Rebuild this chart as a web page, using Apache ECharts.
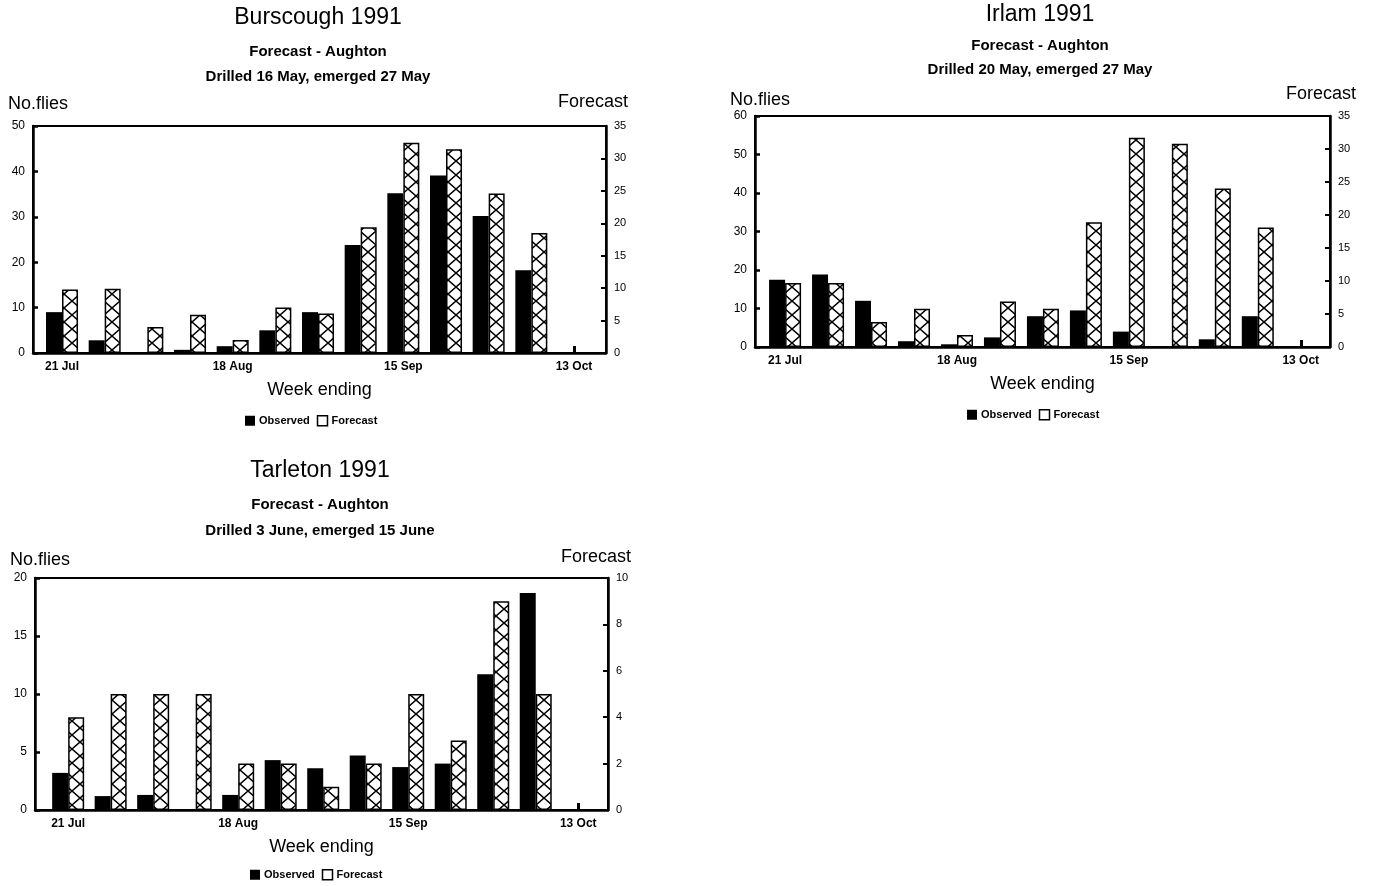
<!DOCTYPE html>
<html>
<head>
<meta charset="utf-8">
<title>Cabbage root fly counts 1991</title>
<script src="https://cdn.jsdelivr.net/npm/echarts@6/dist/echarts.min.js"></script>
<style>
  html, body { margin: 0; padding: 0; background: #fff; }
  #chart { width: 1373px; height: 886px; }
</style>
</head>
<body>
<div id="chart"></div>
<script>
// Week-ending dates (one bar pair per week)
const weeks = ['21 Jul', '28 Jul', '4 Aug', '11 Aug', '18 Aug', '25 Aug', '1 Sep',
               '8 Sep', '15 Sep', '22 Sep', '29 Sep', '6 Oct', '13 Oct'];
// Weeks that carry a date label on the x axis
const labelledWeeks = [0, 4, 8, 12];

// Burscough 1991
const burscoughObserved = [9, 2.8, 0, 0.7, 1.5, 5, 9, 23.8, 35.2, 39.1, 30.2, 18.2, 0];
const burscoughForecast = [9.8, 9.9, 4, 5.9, 2, 7, 6.1, 19.4, 32.4, 31.4, 24.6, 18.5, 0];

// Irlam 1991
const irlamObserved = [17.5, 18.8, 12, 1.5, 0.7, 2.5, 8, 9.5, 4, 0, 2, 8, 0];
const irlamForecast = [9.7, 9.7, 3.8, 5.8, 1.8, 6.9, 5.8, 18.9, 31.7, 30.8, 24, 18.1, 0];

// Tarleton 1991
const tarletonObserved = [3.2, 1.2, 1.3, 0, 1.3, 4.3, 3.6, 4.7, 3.7, 4.0, 11.7, 18.7, 0];
const tarletonForecast = [4, 5, 5, 5, 2, 2, 1, 2, 5, 3, 9, 5, 0];

const FONT = '"Liberation Sans", Arial, Helvetica, sans-serif';

// Diagonal cross-hatch fill used for the forecast bars
function crossHatch() {
  const w = 16, h = 14;
  const cv = document.createElement('canvas');
  cv.width = w; cv.height = h;
  const ctx = cv.getContext('2d');
  ctx.fillStyle = '#fff';
  ctx.fillRect(0, 0, w, h);
  ctx.strokeStyle = '#000';
  ctx.lineWidth = 1.5;
  ctx.beginPath();
  ctx.moveTo(0, 0); ctx.lineTo(w, h);
  ctx.moveTo(w, 0); ctx.lineTo(0, h);
  ctx.stroke();
  return cv;
}
const hatch = { image: crossHatch(), repeat: 'repeat' };

const panels = [
  {
    title: 'Burscough 1991', sub: 'Forecast - Aughton\nDrilled 16 May, emerged 27 May',
    obs: burscoughObserved, fc: burscoughForecast,
    leftAxis: [0, 50, 10], rightAxis: [0, 35, 5],
    grid: { left: 33, top: 126, width: 573, height: 227 },
    xRange: [-0.68, 12.75],
    titleX: 318, titleTop: 5, subGap: 8, subLine: 25,
    leftNameGap: 13, rightNameGap: 15, rightNameShift: 22,
    legend: { left: 245, top: 415 }
  },
  {
    title: 'Irlam 1991', sub: 'Forecast - Aughton\nDrilled 20 May, emerged 27 May',
    obs: irlamObserved, fc: irlamForecast,
    leftAxis: [0, 60, 10], rightAxis: [0, 35, 5],
    grid: { left: 755, top: 116, width: 575, height: 231 },
    xRange: [-0.7, 12.68],
    titleX: 1040, titleTop: 2, subGap: 6, subLine: 24,
    leftNameGap: 7, rightNameGap: 13, rightNameShift: 26,
    legend: { left: 967, top: 409 }
  },
  {
    title: 'Tarleton 1991', sub: 'Forecast - Aughton\nDrilled 3 June, emerged 15 June',
    obs: tarletonObserved, fc: tarletonForecast,
    leftAxis: [0, 20, 5], rightAxis: [0, 10, 2],
    grid: { left: 35, top: 578, width: 573, height: 232 },
    xRange: [-0.78, 12.7],
    titleX: 320, titleTop: 458, subGap: 8, subLine: 26,
    leftNameGap: 9, rightNameGap: 12, rightNameShift: 23,
    legend: { left: 250, top: 869 }
  }
];

const option = {
  animation: false,
  backgroundColor: '#fff',
  textStyle: { fontFamily: FONT, color: '#000' },
  title: [], grid: [], xAxis: [], yAxis: [], series: [], legend: []
};

panels.forEach((p, i) => {
  option.title.push({
    text: p.title, subtext: p.sub,
    left: p.titleX, top: p.titleTop, textAlign: 'center',
    padding: 0, itemGap: p.subGap,
    textStyle: { fontFamily: FONT, fontSize: 23, fontWeight: 'normal', color: '#000', lineHeight: 26 },
    subtextStyle: { fontFamily: FONT, fontSize: 15, fontWeight: 'bold', color: '#000', lineHeight: p.subLine }
  });

  option.grid.push(Object.assign({
    show: true, borderColor: '#000', borderWidth: 2, backgroundColor: 'transparent'
  }, p.grid));

  option.xAxis.push({
    type: 'value', gridIndex: i,
    min: p.xRange[0], max: p.xRange[1],
    name: 'Week ending', nameLocation: 'middle', nameGap: 28,
    nameTextStyle: { fontFamily: FONT, fontSize: 18, color: '#000' },
    axisLine: { show: true, onZero: false, lineStyle: { color: '#000', width: 2.5 } },
    axisTick: { show: true, customValues: [12], inside: true, length: 7, lineStyle: { color: '#000', width: 3 } },
    axisLabel: {
      customValues: labelledWeeks, formatter: v => weeks[v],
      fontFamily: FONT, fontSize: 12, fontWeight: 'bold', color: '#000', margin: 8
    },
    splitLine: { show: false }
  });

  option.yAxis.push({
    type: 'value', gridIndex: i, position: 'left',
    min: p.leftAxis[0], max: p.leftAxis[1], interval: p.leftAxis[2],
    name: 'No.flies', nameLocation: 'end', nameGap: p.leftNameGap, nameMoveOverlap: false,
    nameTextStyle: { fontFamily: FONT, fontSize: 18, color: '#000', align: 'left', verticalAlign: 'bottom', padding: [0, 0, 0, -25] },
    axisLine: { show: true, onZero: false, lineStyle: { color: '#000', width: 2.5 } },
    axisTick: { show: true, inside: true, length: 5, lineStyle: { color: '#000', width: 2.5 } },
    axisLabel: { fontFamily: FONT, fontSize: 12, color: '#000', margin: 8 },
    splitLine: { show: false }
  });

  option.yAxis.push({
    type: 'value', gridIndex: i, position: 'right',
    min: p.rightAxis[0], max: p.rightAxis[1], interval: p.rightAxis[2],
    name: 'Forecast', nameLocation: 'end', nameGap: p.rightNameGap, nameMoveOverlap: false,
    nameTextStyle: { fontFamily: FONT, fontSize: 18, color: '#000', align: 'right', verticalAlign: 'bottom', padding: [0, -p.rightNameShift, 0, 0] },
    axisLine: { show: true, onZero: false, lineStyle: { color: '#000', width: 2.5 } },
    axisTick: { show: true, inside: true, length: 5, lineStyle: { color: '#000', width: 2 } },
    axisLabel: { fontFamily: FONT, fontSize: 11, color: '#000', margin: 8 },
    splitLine: { show: false }
  });

  option.series.push({
    type: 'bar', name: 'Observed',
    xAxisIndex: i, yAxisIndex: 2 * i,
    data: p.obs.map((v, k) => [k, v]),
    barWidth: 16, barGap: '0%',
    itemStyle: { color: '#000' }
  });
  option.series.push({
    type: 'bar', name: 'Forecast',
    xAxisIndex: i, yAxisIndex: 2 * i + 1,
    data: p.fc.map((v, k) => [k, v]),
    barWidth: 16, barGap: '0%',
    itemStyle: { color: hatch, borderColor: '#000', borderWidth: 1.5 }
  });

  option.legend.push({
    left: p.legend.left, top: p.legend.top, orient: 'horizontal',
    padding: 0, itemWidth: 10, itemHeight: 10, itemGap: 7, selectedMode: false,
    textStyle: { fontFamily: FONT, fontSize: 11, fontWeight: 'bold', color: '#000', padding: [0, 0, 0, -1] },
    data: [
      { name: 'Observed', icon: 'rect', itemStyle: { color: '#000', borderWidth: 0 } },
      { name: 'Forecast', icon: 'rect', itemStyle: { color: '#fff', borderColor: '#000', borderWidth: 1.5 } }
    ]
  });
});

const chart = echarts.init(document.getElementById('chart'), null, { renderer: 'canvas' });
chart.setOption(option);
</script>
</body>
</html>
